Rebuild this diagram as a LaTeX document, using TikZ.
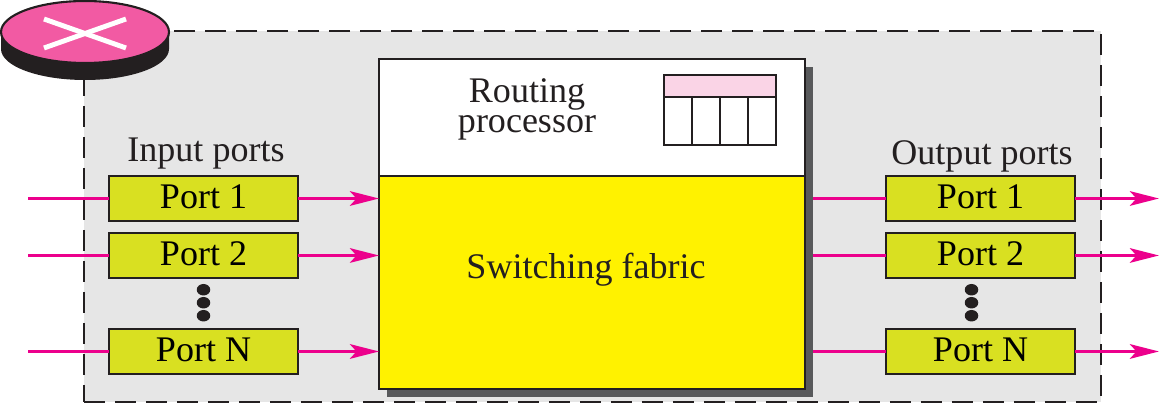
\documentclass[tikz,border=0pt]{standalone}
\usepackage{fontspec}
\setmainfont{Liberation Serif}
\usepackage{tikz}
\usetikzlibrary{shapes.geometric, arrows.meta, positioning, calc, backgrounds}
\definecolor{inkblack}{HTML}{231F20}
\definecolor{panelgray}{HTML}{E6E6E6}
\definecolor{shadowgray}{HTML}{58595B}
\definecolor{portgreen}{HTML}{D9E021}
\definecolor{fabricyellow}{HTML}{FFF200}
\definecolor{linkpink}{HTML}{EC008C}
\definecolor{routerpink}{HTML}{F25AA3}
\definecolor{headpink}{HTML}{FAD4E6}
\tikzstyle{port}=[rectangle, draw=inkblack, line width=1.1pt, fill=portgreen,
                  minimum width=3.78cm, minimum height=0.9cm, inner sep=0pt, outer sep=0pt,
                  font=\fontsize{20.5}{20.5}\selectfont]
\tikzstyle{label}=[inner sep=0pt, outer sep=0pt, align=center, text=inkblack,
                   font=\fontsize{20.5}{17}\selectfont]
\tikzstyle{link}=[-{Stealth[length=0.58cm,width=0.29cm,inset=0.13cm]}, line width=2.2pt, color=linkpink]
\tikzstyle{stub}=[line width=2.2pt, color=linkpink]
\tikzstyle{dot}=[ellipse, fill=inkblack, minimum width=0.27cm, minimum height=0.23cm, inner sep=0pt, outer sep=0pt]
\tikzstyle{cell}=[rectangle, draw=inkblack, line width=1.1pt, fill=white,
                  minimum width=0.56cm, minimum height=0.96cm, inner sep=0pt, outer sep=0pt]

\begin{document}
\begin{tikzpicture}[x=0.02cm, y=-0.02cm, node distance=0.24cm and 1.0cm]
  \useasboundingbox (0,0) rectangle (1159,405);

  % Panel
  \node[draw=inkblack, line width=1.4pt, dash pattern=on 0.42cm off 0.2cm, fill=panelgray,
        minimum width=20.34cm, minimum height=7.42cm, inner sep=0pt, outer sep=0pt]
        (panel) at (592.5,216.5) {};

  % Router
  \coordinate (rl) at (1,32);
  \coordinate (rr) at (169,32);
  \fill[inkblack] (rl) -- ++(0,17) arc[start angle=180, end angle=360, x radius=84, y radius=-31]
                  -- (rr) -- cycle;
  \node[ellipse, draw=inkblack, line width=1.2pt, fill=routerpink, minimum width=3.36cm,
        minimum height=1.24cm, inner sep=0pt, outer sep=0pt] (router) at (85,32) {};
  \coordinate (x1) at (44,19);
  \coordinate (x2) at (126,48);
  \coordinate (x3) at (44,48);
  \coordinate (x4) at (126,19);
  \draw[white, line width=2.8pt] (x1) -- (x2);
  \draw[white, line width=2.8pt] (x3) -- (x4);

  % Processor and fabric
  \node[fill=shadowgray, minimum width=8.52cm, minimum height=6.6cm, inner sep=0pt, outer sep=0pt]
        (shadow) at (600,232) {};
  \node[draw=inkblack, line width=1.1pt, fill=white, minimum width=8.52cm, minimum height=2.34cm,
        inner sep=0pt, outer sep=0pt] (proc) at (592,117.5) {};
  \node[draw=inkblack, line width=1.1pt, fill=fabricyellow, minimum width=8.52cm, minimum height=4.26cm,
        inner sep=0pt, outer sep=0pt, below=0cm of proc] (fabric) {};
  \node[label] (proctext) at (527,109.5) {Routing\\processor};
  \node[label] (fabrictext) at (586,270) {Switching fabric};

  % Routing table
  \node[draw=inkblack, line width=1.1pt, fill=headpink, minimum width=2.24cm, minimum height=0.44cm,
        inner sep=0pt, outer sep=0pt] (tablehead) at (720,86) {};
  \node[cell, anchor=north west] (c1) at (tablehead.south west) {};
  \node[cell, right=0cm of c1] (c2) {};
  \node[cell, right=0cm of c2] (c3) {};
  \node[cell, right=0cm of c3] (c4) {};

  % Input ports
  \node[port, text depth=0.08cm] (in1) at (203.5,198.5) {Port 1};
  \node[port, text depth=0.08cm, below=of in1] (in2) {Port 2};
  \node[port, text depth=0.08cm, below=1.02cm of in2] (inN) {Port N};
  \node[label, above=0.14cm of in1, xshift=0.05cm] (intitle) {Input ports};
  \node[dot, below=0.12cm of in2] (ind1) {};
  \node[dot, below=0.03cm of ind1] (ind2) {};
  \node[dot, below=0.03cm of ind2] (ind3) {};

  % Output ports
  \node[port, text depth=0.08cm] (out1) at (980.5,198.5) {Port 1};
  \node[port, text depth=0.08cm, below=of out1] (out2) {Port 2};
  \node[port, text depth=0.08cm, below=1.02cm of out2] (outN) {Port N};
  \node[label, above=0.08cm of out1, xshift=0.03cm] (outtitle) {Output ports};
  \node[dot, below=0.12cm of out2, xshift=-0.18cm] (outd1) {};
  \node[dot, below=0.03cm of outd1] (outd2) {};
  \node[dot, below=0.03cm of outd2] (outd3) {};

  % Free ends
  \coordinate (src) at (28,0);
  \coordinate (dst) at (1159,0);

  % Arrows
  \foreach \p in {1,2,N} {
    \draw[stub] (in\p.west -| src) -- (in\p.west);
    \draw[link] (in\p.east) -- (in\p.east -| fabric.west);
    \draw[stub] (out\p.west -| shadow.east) -- (out\p.west);
    \draw[link] (out\p.east) -- (out\p.east -| dst);
  }
\end{tikzpicture}
\end{document}
